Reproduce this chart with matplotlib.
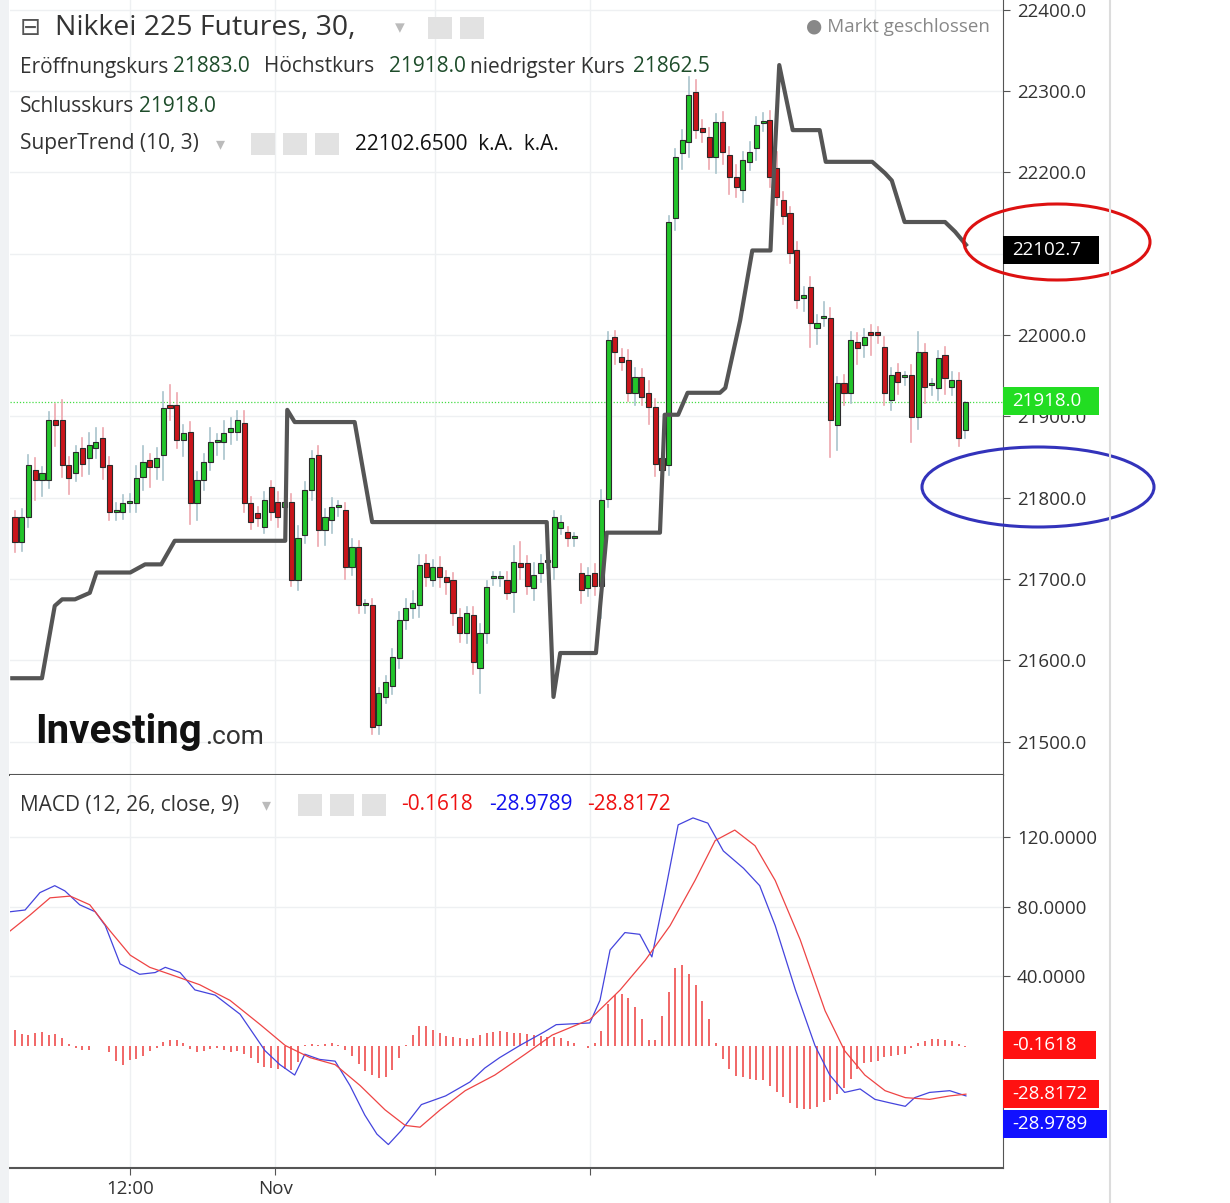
import numpy as np
import matplotlib.pyplot as plt
from matplotlib.patches import Rectangle, Ellipse

plt.rcParams['font.family'] = ['Open Sans', 'DejaVu Sans']

W, H = 1230, 1203

# candle data (30 min bars)
opens = [21776, 21745, 21776, 21834, 21822, 21822, 21895, 21895, 21840, 21830,
         21861, 21849, 21861, 21874, 21840, 21782, 21782, 21793, 21793, 21825,
         21846, 21838, 21852, 21914, 21914, 21871, 21881, 21793, 21822, 21844,
         21868, 21868, 21881, 21881, 21892, 21793, 21781, 21764, 21813, 21795,
         21788, 21795, 21699, 21754, 21809, 21852, 21760, 21772, 21788, 21785,
         21715, 21739, 21668, 21668, 21520, 21555, 21569, 21603, 21649, 21664,
         21668, 21720, 21699, 21715, 21702, 21699, 21653, 21633, 21656, 21590,
         21633, 21701, 21701, 21699, 21684, 21720, 21720, 21689, 21708, 21721,
         21715, 21763, 21758, 21751, 21708, 21689, 21708, 21692, 21799, 21997,
         21973, 21969, 21929, 21948, 21929, 21911, 21849, 21840, 22144, 22224,
         22237, 22299, 22255, 22243, 22219, 22262, 22221, 22194, 22178, 22213,
         22230, 22261, 22264, 22205, 22166, 22150, 22104, 22045, 22059, 22009,
         22021, 22021, 21889, 21941, 21929, 21991, 21988, 22004, 22004, 21985,
         21920, 21954, 21948, 21951, 21899, 21979, 21938, 21935, 21975, 21936,
         21945, 21883]
closes = [21745, 21776, 21840, 21822, 21830, 21895, 21889, 21840, 21824, 21856,
          21842, 21865, 21868, 21838, 21782, 21785, 21793, 21793, 21824, 21844,
          21838, 21849, 21910, 21910, 21871, 21879, 21793, 21822, 21844, 21868,
          21868, 21879, 21886, 21895, 21793, 21770, 21775, 21797, 21782, 21776,
          21795, 21699, 21750, 21809, 21849, 21760, 21776, 21788, 21788, 21715,
          21739, 21668, 21668, 21518, 21560, 21573, 21604, 21649, 21664, 21670,
          21717, 21702, 21715, 21702, 21696, 21658, 21633, 21658, 21598, 21633,
          21690, 21701, 21701, 21683, 21721, 21715, 21692, 21705, 21720, 21721,
          21776, 21770, 21751, 21751, 21686, 21705, 21692, 21797, 21994, 21979,
          21967, 21929, 21948, 21924, 21911, 21842, 21834, 22139, 22219, 22240,
          22295, 22252, 22250, 22219, 22262, 22225, 22194, 22182, 22215, 22225,
          22258, 22261, 22194, 22170, 22147, 22101, 22043, 22049, 22015, 22015,
          22021, 21895, 21941, 21929, 21994, 21984, 21997, 22000, 22000, 21929,
          21951, 21942, 21948, 21899, 21979, 21936, 21938, 21972, 21947, 21945,
          21873, 21918]
upper_wick = [8, 10, 12, 15, 8, 10, 20, 25, 10, 8, 12, 15, 18, 12, 10, 8, 10, 12, 15, 20,
              8, 12, 20, 25, 15, 10, 12, 10, 10, 18, 10, 15, 12, 12, 15, 8, 8, 10, 8, 12,
              10, 10, 15, 10, 8, 12, 10, 12, 8, 8, 10, 8, 6, 8, 6, 8, 10, 10, 12, 15,
              12, 10, 8, 12, 8, 8, 10, 8, 10, 12, 8, 8, 8, 10, 20, 25, 8, 15, 10, 10,
              8, 8, 6, 6, 10, 8, 10, 12, 10, 8, 10, 12, 12, 10, 15, 10, 6, 8, 10, 12,
              22, 15, 10, 12, 10, 12, 10, 15, 10, 12, 10, 12, 12, 20, 10, 8, 10, 10, 12, 10,
              20, 12, 8, 10, 10, 12, 10, 8, 6, 12, 8, 10, 6, 12, 25, 10, 8, 8, 10, 10,
              8, 0]
lower_wick = [12, 10, 12, 25, 20, 10, 25, 15, 20, 10, 15, 20, 12, 15, 10, 10, 8, 10, 10, 15,
              25, 15, 30, 15, 10, 20, 25, 20, 12, 10, 15, 20, 15, 10, 10, 8, 10, 8, 10, 12,
              15, 8, 12, 10, 12, 20, 18, 15, 10, 15, 10, 10, 10, 8, 10, 8, 10, 12, 10, 12,
              15, 10, 8, 12, 15, 15, 10, 12, 15, 30, 12, 8, 10, 8, 25, 15, 10, 15, 12, 8,
              15, 8, 10, 10, 15, 10, 12, 40, 10, 15, 10, 10, 15, 10, 20, 15, 10, 12, 15, 20,
              18, 10, 12, 15, 20, 15, 20, 12, 15, 10, 15, 10, 12, 10, 10, 12, 10, 15, 30, 20,
              10, 45, 30, 15, 12, 20, 15, 25, 10, 15, 12, 15, 10, 30, 15, 20, 12, 15, 20, 10,
              10, 10]

# SuperTrend breakpoints (bar index, price)
st_idx = [-0.4, 4.0, 5.9, 7.0, 8.9, 11.1, 12.1, 17.1, 19.3, 21.7, 23.7, 40.1, 40.4,
          41.5, 50.4, 53.0, 78.9, 79.9, 80.9, 86.2, 87.8, 95.7, 96.4, 98.4, 99.8,
          104.6, 105.4, 107.6, 109.4, 112.1, 112.6, 113.4, 114.2, 115.4, 119.4, 120.3,
          127.2, 129.1, 130.1, 132.0, 138.0, 139.5, 141.1]
st_val = [21578, 21578, 21667, 21675, 21675, 21683, 21708, 21708, 21718, 21718, 21747,
          21747, 21908, 21893, 21893, 21770, 21770, 21555, 21609, 21609, 21757, 21757,
          21902, 21902, 21929, 21929, 21935, 22018, 22104, 22104, 22200, 22332, 22300,
          22252, 22252, 22213, 22213, 22199, 22190, 22139, 22139, 22127, 22111]

# MACD and signal line breakpoints (bar index, value)
macd_idx = [-0.7, 1.5, 3.7, 5.9, 7.4, 9.6, 11.9, 13.4, 15.6, 18.5, 20.8, 22.3, 24.5, 26.7,
            29.7, 33.4, 37.1, 39.3, 41.5, 43.0, 45.2, 47.5, 49.7, 51.9, 53.7, 55.4,
            57.3, 60.3, 63.9, 67.5, 69.7, 71.9, 74.9, 78.6, 80.3, 85.3, 86.8, 88.3,
            90.5, 92.7, 94.5, 96.4, 98.4, 100.6, 102.8, 105.1, 108.1, 110.5, 112.8,
            115.8, 118.7, 120.9, 123.1, 125.4, 127.6, 129.8, 132.1, 133.5, 135.7, 138.7, 141.1]
macd_val = [77, 78, 88, 92, 89, 81, 77, 69, 47, 41, 42, 45, 42, 32, 29, 18, -3, -11, -17,
            -5, -8, -9, -23, -40, -51, -57, -49, -34, -29, -21, -13, -7, 0, 8, 12, 13,
            26, 55, 65, 64, 51, 87, 127, 131, 128, 112, 102, 92, 69, 32, 0, -17, -27,
            -25, -31, -33, -35, -30, -27, -26, -29]
sig_idx = [-0.7, 2.2, 5.2, 8.2, 11.1, 14.1, 17.1, 20.0, 23.0, 27.4, 31.9, 36.4, 40.1,
           43.8, 47.5, 51.2, 54.9, 57.9, 60.1, 63.1, 66.8, 71.2, 75.7, 79.7, 85.3, 89.8,
           93.5, 97.2, 100.9, 103.9, 106.8, 109.8, 112.8, 116.5, 120.2, 123.1, 126.1,
           129.1, 132.1, 135.7, 138.7, 141.1]
sig_val = [66, 75, 85, 86, 81, 66, 52, 45, 41, 35, 26, 12, 0, -7, -11, -23, -37, -46, -47,
           -37, -26, -17, -5, 6, 15, 32, 49, 69, 95, 118, 124, 115, 95, 61, 20, -3, -17,
           -26, -30, -31, -29, -28]

n = len(opens)
x = np.arange(n)
o = np.array(opens, float)
c = np.array(closes, float)
hi = np.maximum(o, c) + np.array(upper_wick)
lo = np.minimum(o, c) - np.array(lower_wick)
up = c >= o

macd_bar = np.interp(x, macd_idx, macd_val)
sig_bar = np.interp(x, sig_idx, sig_val)
hist = macd_bar - sig_bar

GREEN = '#22c42a'
RED = '#c9151b'
GRID = '#eef0f2'
TXT = '#333333'


def fx(px):
    return px / W


def fy(py):
    return 1 - py / H


fig = plt.figure(figsize=(W / 100, H / 100), dpi=100)

ax = fig.add_axes([fx(10), fy(775), fx(993), 775 / H])
ax2 = fig.add_axes([fx(10), fy(1168), fx(993), (1168 - 775) / H])

xlim = (-0.74, 146.6)
vlines = [17.1, 38.6, 62.3, 85.3, 127.6]

# price pane
for i in range(n):
    wc = '#a9c4cc' if up[i] else '#eea7ae'
    ax.plot([i, i], [lo[i], hi[i]], color=wc, lw=1.2, zorder=2)
    b0 = min(o[i], c[i])
    bh = max(abs(c[i] - o[i]), 2.5)
    ax.add_patch(Rectangle((i - 0.38, b0), 0.76, bh, facecolor=GREEN if up[i] else RED,
                           edgecolor='#2b2b2b', lw=0.8, zorder=3))
ax.plot(st_idx, st_val, color='#555555', lw=3, zorder=4, solid_joinstyle='round')
ax.axhline(21918, color='#44dd44', lw=0.9, ls=(0, (1, 1.5)), zorder=1)
ax.set_xlim(*xlim)
ax.set_ylim(21459, 22412)
ax.set_yticks(np.arange(21500, 22401, 100))
ax.set_yticklabels([f'{v:.1f}' for v in np.arange(21500, 22401, 100)])
ax.grid(axis='y', color=GRID, lw=1)
for v in vlines:
    ax.axvline(v, color=GRID, lw=1, zorder=0)
ax.set_xticks([])

# macd pane
ax2.vlines(x, 0, hist, color='#f05a5a', lw=1.3)
ax2.plot(macd_idx, macd_val, color='#4444dd', lw=0.9)
ax2.plot(sig_idx, sig_val, color='#ee4444', lw=0.9)
ax2.set_xlim(*xlim)
ax2.set_ylim(-70.5, 155.7)
ax2.set_yticks([40, 80, 120])
ax2.set_yticklabels(['40.0000', '80.0000', '120.0000'])
ax2.grid(axis='y', color=GRID, lw=1)
for v in vlines:
    ax2.axvline(v, color=GRID, lw=1, zorder=0)
ax2.set_xticks(vlines)
ax2.set_xticklabels(['12:00', 'Nov', '', '', ''])

for a in (ax, ax2):
    a.yaxis.tick_right()
    a.tick_params(axis='y', length=5, color='#555555', labelsize=13.5, labelcolor=TXT, pad=5)
    a.tick_params(axis='x', length=5, color='#555555', labelsize=13.5, labelcolor=TXT)
    for s in ('top', 'left'):
        a.spines[s].set_visible(False)
    a.spines['right'].set_color('#555555')
    a.spines['bottom'].set_color('#555555')
    a.spines['bottom'].set_linewidth(1.5)

# right side boxes
def tag(py, s, fc, w=96):
    fig.patches.append(Rectangle((fx(1003), fy(py + 14)), fx(w), 28 / H, facecolor=fc,
                                 edgecolor='none', transform=fig.transFigure))
    fig.text(fx(1012), fy(py), s, color='white', fontsize=13.5, va='center', ha='left')


tag(250, '22102.7', '#000000')
tag(401, '21918.0', '#22dd22')
tag(1045, '-0.1618', '#ff1111', 93)
tag(1094, '-28.8172', '#ff1111', 96)
tag(1124, '-28.9789', '#1111ff', 104)

fig.patches.append(Ellipse((fx(1057), fy(242)), fx(186), 76 / H, fill=False,
                           edgecolor='#dd1111', lw=2.2, transform=fig.transFigure))
fig.patches.append(Ellipse((fx(1038), fy(487)), fx(232), 80 / H, fill=False,
                           edgecolor='#3333bb', lw=2.2, transform=fig.transFigure))

# borders on right and left
fig.add_artist(plt.Line2D([fx(1110), fx(1110)], [0, 1], color='#dcdcdc', lw=1.5))
fig.patches.append(Rectangle((0, 0), fx(9), 1, facecolor='#f0f2f4', edgecolor='none',
                             transform=fig.transFigure))

# header texts
def icons(px, py, k=2):
    for j in range(k):
        fig.patches.append(Rectangle((fx(px + j * 32), fy(py + 11)), fx(24), 22 / H,
                                     facecolor='#e2e2e2', edgecolor='none',
                                     transform=fig.transFigure))


fig.text(fx(20), fy(28), '\u229f', fontsize=18, color='#555555', va='center',
         family=['DejaVu Sans'])
fig.text(fx(55), fy(28), 'Nikkei 225 Futures, 30,', fontsize=20.5, color=TXT, va='center')
fig.text(fx(395), fy(28), '\u25be', fontsize=14, color='#bbbbbb', va='center')
icons(428, 28)
fig.text(fx(990), fy(27), '\u25cf Markt geschlossen', fontsize=13.5, color='#888888',
         va='center', ha='right')

DG = '#1e4d2b'
line2 = [(20, 'Eröffnungskurs', TXT), (173, '21883.0', DG), (264, 'Höchstkurs', TXT),
         (389, '21918.0', DG), (470, 'niedrigster Kurs', TXT), (633, '21862.5', DG)]
for px, s, col in line2:
    fig.text(fx(px), fy(67), s, fontsize=15, color=col, va='center')
fig.text(fx(20), fy(106), 'Schlusskurs', fontsize=15, color=TXT, va='center')
fig.text(fx(139), fy(106), '21918.0', fontsize=15, color=DG, va='center')
fig.text(fx(20), fy(144), 'SuperTrend (10, 3)', fontsize=15, color=TXT, va='center')
fig.text(fx(216), fy(144), '\u25be', fontsize=13, color='#bbbbbb', va='center')
icons(251, 144, 3)
fig.text(fx(355), fy(144), '22102.6500  k.A.  k.A.', fontsize=15, color='#111111',
         va='center')

fig.text(fx(20), fy(805), 'MACD (12, 26, close, 9)', fontsize=15, color=TXT, va='center')
fig.text(fx(262), fy(805), '\u25be', fontsize=13, color='#bbbbbb', va='center')
icons(298, 805, 3)
fig.text(fx(401), fy(805), '-0.1618', fontsize=15, color='#ee1111', va='center')
fig.text(fx(489), fy(805), '-28.9789', fontsize=15, color='#1111ee', va='center')
fig.text(fx(587), fy(805), '-28.8172', fontsize=15, color='#ee1111', va='center')

fig.text(fx(35), fy(732), 'Investing', fontsize=29, fontweight='bold', color='#111111',
         va='center', family=['Roboto', 'DejaVu Sans'])
fig.text(fx(205), fy(737), '.com', fontsize=19, color='#333333', va='center',
         family=['Roboto', 'DejaVu Sans'])

fig.savefig('out.png', dpi=100)
